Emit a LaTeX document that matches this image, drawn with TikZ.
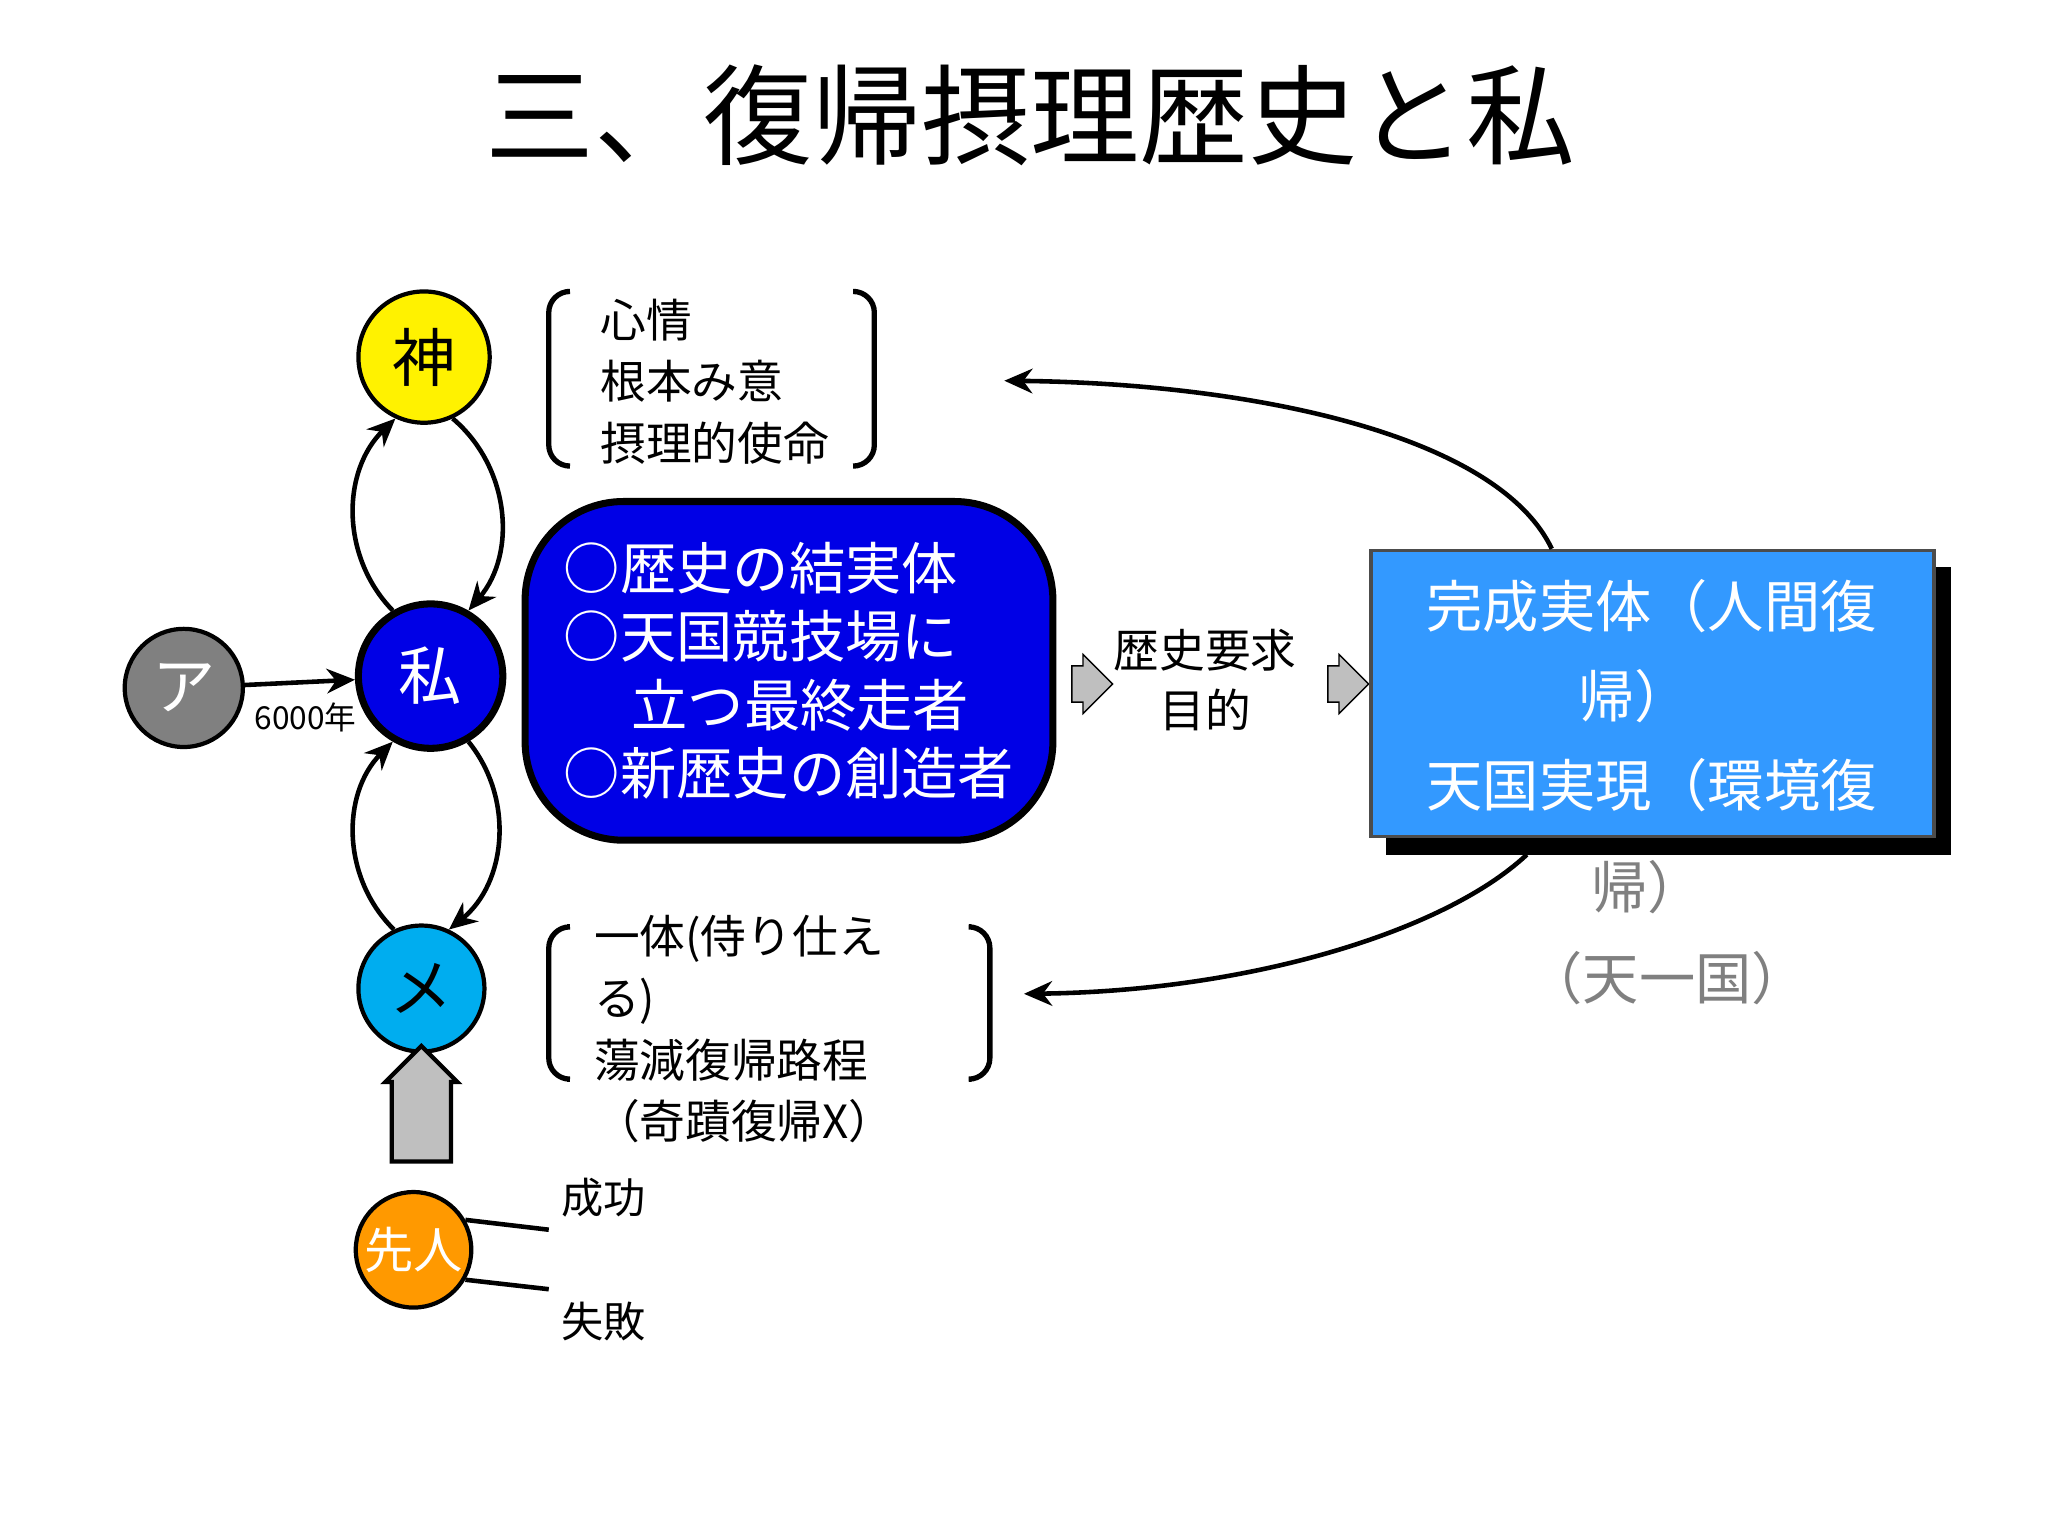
\documentclass[tikz,border=0pt]{standalone}
\usepackage{fontspec}
\setmainfont{Noto Sans CJK JP}
\usetikzlibrary{shapes.arrows,arrows.meta}
\definecolor{myblue}{RGB}{0,0,230}
\definecolor{lblue}{RGB}{51,153,255}
\definecolor{orng}{RGB}{255,153,0}
\begin{document}
\begin{tikzpicture}[x=0.01313cm,y=-0.01313cm,
  circ/.style={circle,draw=black,line width=1.2pt,inner sep=0pt},
  lbl/.style={font=\fontsize{12}{15}\selectfont,align=left,anchor=north west},
  arr/.style={-{Stealth[length=8pt,width=7pt]},line width=1.3pt},
  brk/.style={line width=1.5pt,rounded corners=6pt},
  garr/.style={single arrow,draw=black,fill=gray!50,minimum height=30pt,single arrow head extend=2pt,inner sep=3pt}]
\useasboundingbox (0,0) rectangle (1560,1170);
\node (title) at (785,88) {\fontsize{31}{36}\selectfont 三、復帰摂理歴史と私};
\node[circ,fill=yellow,minimum size=100*0.01313cm] (kami) at (323,272) {\fontsize{18}{20}\selectfont 神};
\node[circ,fill=myblue,text=white,minimum size=110*0.01313cm,line width=2pt] (wa) at (328,515) {\fontsize{18}{20}\selectfont 私};
\node[circ,fill=cyan,minimum size=96*0.01313cm] (me) at (321,753) {\fontsize{18}{20}\selectfont メ};
\node[circ,fill=gray,text=white,minimum size=90*0.01313cm] (a) at (140,524) {\fontsize{18}{20}\selectfont ア};
\node[circ,fill=orng,text=white,minimum size=88*0.01313cm] (sen) at (315,952) {\fontsize{14}{16}\selectfont 先人};
\draw[arr] (a) -- (wa) node[pos=0.55,below=2pt,font=\fontsize{9}{10}\selectfont] (y) {6000年};
\draw[arr] (wa.120) to[bend left=45] (kami.245);
\draw[arr] (kami.295) to[bend left=45] (wa.60);
\draw[arr] (me.115) to[bend left=45] (wa.240);
\draw[arr] (wa.300) to[bend left=45] (me.65);
\node[single arrow,draw=black,line width=1.2pt,fill=gray!50,rotate=90,minimum height=88*0.01313cm,minimum width=55*0.01313cm,single arrow head extend=1pt,inner sep=4pt] (up) at (321,852) {};
\node[lbl,font=\fontsize{12}{15}\selectfont] (ok) at (418,888) {成功};
\node[lbl,font=\fontsize{12}{15}\selectfont] (ng) at (418,982) {失敗};
\draw[line width=1.3pt] (sen.30) -- (ok.south west);
\draw[line width=1.3pt] (sen.330) -- (ng.north west);
% upper bracket
\node[lbl,font=\fontsize{13}{17.5}\selectfont] (t1) at (448,218) {心情\\根本み意\\摂理的使命};
\draw[brk] (432,222) -- (418,222) -- (418,355) -- (432,355);
\draw[brk] (652,222) -- (666,222) -- (666,355) -- (652,355);
% lower bracket
\node[lbl,font=\fontsize{13}{17.5}\selectfont] (t2) at (443,688) {一体(侍り仕え\\る)\\蕩減復帰路程\\（奇蹟復帰X）};
\draw[brk] (432,706) -- (418,706) -- (418,822) -- (432,822);
\draw[brk] (740,706) -- (754,706) -- (754,822) -- (740,822);
% blue box
\node[draw=black,line width=2pt,fill=myblue,rounded corners=28pt,minimum width=402*0.01313cm,minimum height=258*0.01313cm] (bb) at (601,511) {};
\node[text=white,align=left,font=\fontsize{16}{19.5}\selectfont] (bt) at (601,511) {○歴史の結実体\\○天国競技場に\\\hspace{1.2em}立つ最終走者\\○新歴史の創造者};
% small arrows & middle text
\node[single arrow,draw=black,fill=gray!50,minimum height=30*0.01313cm,minimum width=45*0.01313cm,single arrow head extend=2pt,inner sep=3pt] (s1) at (825,521) {};
\node[align=center,font=\fontsize{13}{17}\selectfont] (mid) at (918,518) {歴史要求\\目的};
\node[single arrow,draw=black,fill=gray!50,minimum height=30*0.01313cm,minimum width=45*0.01313cm,single arrow head extend=2pt,inner sep=3pt] (s2) at (1020,521) {};
% right box
\fill[black] (1056,432) rectangle (1486,651);
\node[draw=black!70,line width=1pt,fill=lblue,minimum width=429*0.01313cm,minimum height=218*0.01313cm,anchor=north west,inner sep=0pt] (rb) at (1043,418) {};
\node[text=white,font=\fontsize{16}{18}\selectfont] (r1) at (1258,462) {完成実体（人間復};
\node[text=white,font=\fontsize{16}{18}\selectfont] (r2) at (1245,530) {帰）};
\node[text=white,font=\fontsize{16}{18}\selectfont] (r3) at (1258,598) {天国実現（環境復};
\node[text=gray,font=\fontsize{16}{18}\selectfont] (r4) at (1255,676) {帰）};
\node[text=gray,font=\fontsize{16}{18}\selectfont] (r5) at (1270,745) {（天一国）};
\coordinate (rt) at (1182,418);
\coordinate (rbt) at (1163,651);
\draw[arr] (rt) .. controls (1140,330) and (950,292) .. (765,290);
\draw[arr] (rbt) .. controls (1100,710) and (950,755) .. (780,757);
\end{tikzpicture}
\end{document}
